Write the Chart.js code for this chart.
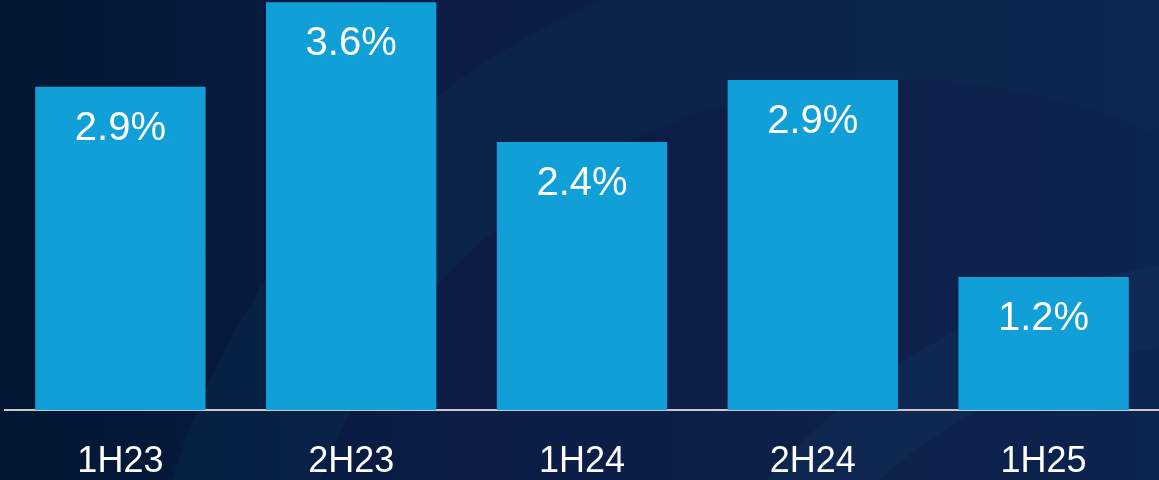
<!DOCTYPE html>
<html>
<head>
<meta charset="utf-8">
<script src="https://cdn.jsdelivr.net/npm/chart.js@4/dist/chart.umd.min.js"></script>
<style>
    html, body { margin: 0; padding: 0; }
    body {
        width: 1159px;
        height: 480px;
        overflow: hidden;
        background:
            radial-gradient(circle at 1250px 900px, rgba(20,60,100,0) 0 560px, rgba(20,60,100,0.25) 561px 640px, rgba(20,60,100,0) 641px),
            radial-gradient(circle at 900px 700px, rgba(10,40,80,0) 0 620px, rgba(10,45,80,0.35) 621px 760px, rgba(10,40,80,0) 761px),
            linear-gradient(90deg, #021733 0%, #051a3d 20%, #0c1c47 40%, #0d2049 70%, #0c2450 100%);
    }
    #wrap { position: relative; width: 1159px; height: 480px; }
</style>
</head>
<body>
<div id="wrap"><canvas id="growthChart"></canvas></div>
<script>
// half-year periods
const periods = ['1H23', '2H23', '1H24', '2H24', '1H25'];
// growth in % (labels show one decimal)
const growth = [2.87, 3.62, 2.38, 2.93, 1.18];

// draws the % label inside each bar, near its top
const barLabels = {
    id: 'barLabels',
    afterDatasetsDraw(chart) {
        const ctx = chart.ctx;
        const meta = chart.getDatasetMeta(0);
        ctx.save();
        ctx.fillStyle = '#ffffff';
        ctx.font = '40px "Liberation Sans", Arial, sans-serif';
        ctx.textAlign = 'center';
        ctx.textBaseline = 'middle';
        meta.data.forEach((bar, i) => {
            ctx.fillText(growth[i].toFixed(1) + '%', bar.x, bar.y + 42);
        });
        ctx.restore();
    }
};

const ctx = document.getElementById('growthChart').getContext('2d');
const growthChart = new Chart(ctx, {
    type: 'bar',
    data: {
        labels: periods,
        datasets: [{
            data: growth,
            backgroundColor: '#109fd6',
            borderWidth: 0,
            categoryPercentage: 1,
            barPercentage: 0.738
        }]
    },
    options: {
        responsive: true,
        maintainAspectRatio: false,
        animation: false,
        layout: { padding: { left: 5, right: 0, top: 0, bottom: 0 } },
        plugins: {
            legend: { display: false },
            tooltip: { enabled: false }
        },
        scales: {
            x: {
                grid: { display: false, drawTicks: false },
                border: { display: true, color: '#c9c9c9', width: 2 },
                ticks: {
                    color: '#ffffff',
                    padding: 34,
                    font: { family: '"Liberation Sans", Arial, sans-serif', size: 36, lineHeight: 1 }
                },
                afterFit(scale) { scale.height = 70; }
            },
            y: {
                display: false,
                min: 0,
                max: 3.64
            }
        }
    },
    plugins: [barLabels]
});
</script>
</body>
</html>
